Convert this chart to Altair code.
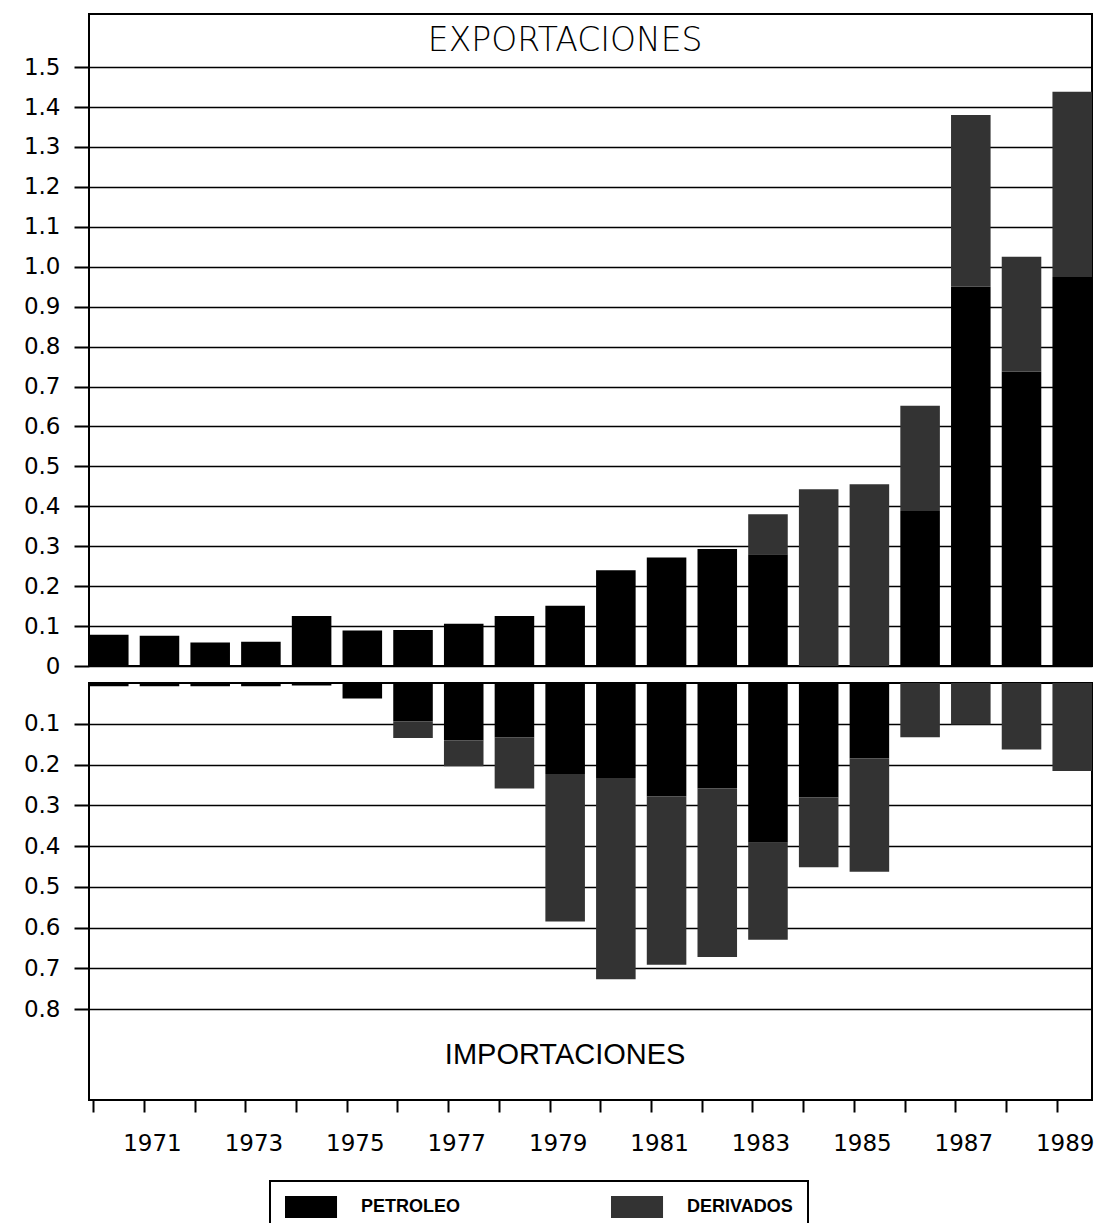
import altair as alt
import pandas as pd

years = ["1970", "1971", "1972", "1973", "1974", "1975", "1976", "1977", "1978", "1979",
         "1980", "1981", "1982", "1983", "1984", "1985", "1986", "1987", "1988", "1989"]

exp_petroleo = [0.078, 0.076, 0.059, 0.061, 0.125, 0.089, 0.090, 0.106, 0.125, 0.151,
                0.240, 0.272, 0.293, 0.280, 0.000, 0.000, 0.388, 0.950, 0.737, 0.974]
exp_derivados = [0.0, 0.0, 0.0, 0.0, 0.0, 0.0, 0.0, 0.0, 0.0, 0.0,
                 0.0, 0.0, 0.0, 0.100, 0.443, 0.455, 0.264, 0.430, 0.288, 0.464]

imp_petroleo = [0.008, 0.008, 0.008, 0.008, 0.006, 0.038, 0.094, 0.141, 0.133, 0.223,
                0.233, 0.278, 0.259, 0.392, 0.281, 0.185, 0.0, 0.0, 0.0, 0.0]
imp_derivados = [0.0, 0.0, 0.0, 0.0, 0.0, 0.0, 0.041, 0.063, 0.126, 0.362,
                 0.494, 0.413, 0.413, 0.238, 0.171, 0.278, 0.133, 0.102, 0.163, 0.216]

tipos = ["PETROLEO", "DERIVADOS"]
colores = ["#000000", "#333333"]

exp_ticks = [0, 0.1, 0.2, 0.3, 0.4, 0.5, 0.6, 0.7, 0.8, 0.9, 1.0, 1.1, 1.2, 1.3, 1.4, 1.5]
imp_ticks = [0.1, 0.2, 0.3, 0.4, 0.5, 0.6, 0.7, 0.8]


def long_table(pet, der):
    rows = []
    for y, p, d in zip(years, pet, der):
        rows.append({"year": y, "tipo": "PETROLEO", "valor": p, "orden": 0})
        rows.append({"year": y, "tipo": "DERIVADOS", "valor": d, "orden": 1})
    return pd.DataFrame(rows)


exp_df = long_table(exp_petroleo, exp_derivados)
imp_df = long_table(imp_petroleo, imp_derivados)

AXIS_FONT = "DejaVu Sans"

xscale = alt.Scale(domain=years, paddingInner=0.22, paddingOuter=0)

color_enc = alt.Color(
    "tipo:N",
    scale=alt.Scale(domain=tipos, range=colores),
    legend=alt.Legend(
        orient="none", legendX=181, legendY=1167, direction="horizontal", title=None,
        symbolType="M-1,-1H3.73V1H-1Z", symbolSize=484, symbolStrokeWidth=0,
        labelFont="Liberation Sans", labelFontWeight="bold", labelFontSize=18,
        labelColor="black", labelOffset=54, columnPadding=150, padding=15,
        strokeColor="black",
    ),
)

common_y_axis = dict(
    grid=True, gridColor="black", gridWidth=1.7, gridOpacity=1,
    tickSize=15, tickWidth=2, tickColor="black", domain=False,
    labelFont=AXIS_FONT, labelFontSize=23, labelColor="black", labelPadding=14,
    title=None,
)

W = 1003

upper_bars = alt.Chart(exp_df).mark_bar().encode(
    x=alt.X("year:N", sort=years, scale=xscale, axis=None, title=None),
    y=alt.Y(
        "valor:Q", stack="zero",
        scale=alt.Scale(domain=[0, 1.633], nice=False, zero=True),
        axis=alt.Axis(values=exp_ticks,
                      labelExpr="datum.value == 0 ? '0' : format(datum.value, '.1f')",
                      **common_y_axis),
    ),
    color=color_enc,
    order=alt.Order("orden:Q"),
)

upper_title = alt.Chart(pd.DataFrame({"t": ["EXPORTACIONES"]})).mark_text(
    font="DejaVu Sans", fontSize=33, fontWeight=300, color="black", baseline="middle", align="center"
).encode(
    x=alt.datum("1979"),
    y=alt.datum(1.565),
    text="t:N",
)

upper = alt.layer(upper_bars, upper_title).properties(width=W, height=652)

lower_bars = alt.Chart(imp_df).mark_bar().encode(
    x=alt.X(
        "year:N", sort=years, scale=xscale, title=None,
        axis=alt.Axis(values=years,
                      labelExpr="toNumber(datum.value) % 2 == 1 ? datum.value : ''",
                      bandPosition=0.12, tickSize=12, tickWidth=2, tickColor="black",
                      domain=False, labelFont=AXIS_FONT, labelFontSize=23,
                      labelColor="black", labelPadding=20, labelAngle=0, labelOffset=-7,
                      grid=False, title=None),
    ),
    y=alt.Y(
        "valor:Q", stack="zero",
        scale=alt.Scale(domain=[0, 1.023], nice=False, zero=True, reverse=True),
        axis=alt.Axis(values=imp_ticks, format=".1f", **common_y_axis),
    ),
    color=color_enc,
    order=alt.Order("orden:Q"),
)

lower_title = alt.Chart(pd.DataFrame({"t": ["IMPORTACIONES"]})).mark_text(
    font="Liberation Sans", fontSize=29, color="black", baseline="middle", align="center"
).encode(
    x=alt.datum("1979"),
    y=alt.datum(0.913),
    text="t:N",
)

lower = alt.layer(lower_bars, lower_title).properties(width=W, height=417)

chart = alt.vconcat(upper, lower, spacing=3).properties(
    padding={"left": 14, "top": 5, "right": 5, "bottom": 5}
).configure_view(
    stroke="black", strokeWidth=2
).configure_legend(
    strokeWidth=2
)

chart.save("out.html", embed_options={"renderer": "svg", "actions": False})
